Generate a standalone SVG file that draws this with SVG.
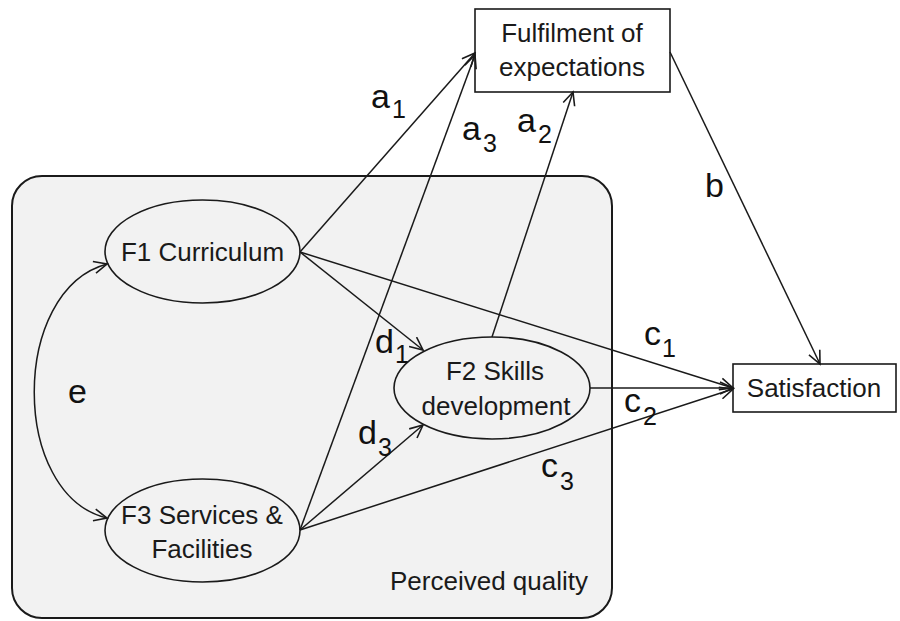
<svg xmlns="http://www.w3.org/2000/svg" width="900" height="621" viewBox="0 0 900 621">
  <defs>
    <marker id="arrow" markerUnits="userSpaceOnUse" markerWidth="16" markerHeight="14" refX="14" refY="7" orient="auto-start-reverse" viewBox="0 0 16 14">
      <path d="M1,1 L14,7 L1,13" fill="none" stroke="#1a1a1a" stroke-width="1.6"/>
    </marker>
    <style>
      .lbl { font-family: "Liberation Sans", Arial, sans-serif; font-size: 26px; fill: #1a1a1a; text-anchor: middle; }
      .coef { font-family: "Liberation Sans", Arial, sans-serif; font-size: 34px; fill: #111; }
      .sub { font-size: 25px; }
      .shape { stroke: #1a1a1a; stroke-width: 1.6; }
      .conn { fill: none; stroke: #1a1a1a; stroke-width: 1.5; marker-end: url(#arrow); }
    </style>
  </defs>
  <rect width="900" height="621" fill="#ffffff"/>

  <!-- container: perceived quality -->
  <g id="perceived-quality">
    <rect x="12" y="176" width="600" height="442" rx="30" ry="30" fill="#f2f2f2" stroke="#1a1a1a" stroke-width="2"/>
    <text class="lbl" x="489" y="590">Perceived quality</text>
  </g>

  <g id="f1">
    <ellipse class="shape" cx="202.5" cy="251.5" rx="97.5" ry="51.5" fill="#f2f2f2"/>
    <text class="lbl" x="202.5" y="261">F1 Curriculum</text>
  </g>

  <g id="f3">
    <ellipse class="shape" cx="202.5" cy="530.5" rx="97.5" ry="51.5" fill="#f2f2f2"/>
    <text class="lbl" x="202" y="524">F3 Services &amp;</text>
    <text class="lbl" x="202" y="558">Facilities</text>
  </g>

  <g id="f2">
    <ellipse class="shape" cx="492" cy="388" rx="98" ry="51" fill="#f2f2f2"/>
    <text class="lbl" x="495" y="380">F2 Skills</text>
    <text class="lbl" x="496" y="415">development</text>
  </g>

  <g id="fulfilment">
    <rect class="shape" x="475" y="9" width="195" height="83" fill="#ffffff"/>
    <text class="lbl" x="572" y="42">Fulfilment of</text>
    <text class="lbl" x="572" y="76">expectations</text>
  </g>

  <g id="satisfaction">
    <rect class="shape" x="733" y="364" width="163" height="48" fill="#ffffff"/>
    <text class="lbl" x="814" y="397">Satisfaction</text>
  </g>

  <!-- paths between constructs -->
  <g id="connectors">
    <line class="conn" x1="300" y1="252" x2="475" y2="53"/>
    <line class="conn" x1="300" y1="530" x2="475" y2="55"/>
    <line class="conn" x1="492" y1="337" x2="573" y2="92"/>
    <line class="conn" x1="670" y1="52" x2="820" y2="364"/>
    <line class="conn" x1="300" y1="252" x2="733" y2="388"/>
    <line class="conn" x1="300" y1="252" x2="423" y2="350"/>
    <line class="conn" x1="590" y1="388" x2="733" y2="388"/>
    <line class="conn" x1="300" y1="530" x2="423" y2="425"/>
    <line class="conn" x1="300" y1="530" x2="733" y2="389"/>
    <path class="conn" d="M107,264 C10,290 10,495 107,518" marker-start="url(#arrow)"/>
  </g>

  <!-- path coefficients -->
  <g id="coefficients">
    <text class="coef" x="371" y="108">a<tspan class="sub" dx="2" dy="10">1</tspan></text>
    <text class="coef" x="462" y="140">a<tspan class="sub" dx="2" dy="12">3</tspan></text>
    <text class="coef" x="517" y="132">a<tspan class="sub" dx="2" dy="11">2</tspan></text>
    <text class="coef" x="705" y="197">b</text>
    <text class="coef" x="68" y="403">e</text>
    <text class="coef" x="375" y="353">d<tspan class="sub" dx="1" dy="10">1</tspan></text>
    <text class="coef" x="358" y="444">d<tspan class="sub" dx="1" dy="12">3</tspan></text>
    <text class="coef" x="644" y="345">c<tspan class="sub" dx="1" dy="12">1</tspan></text>
    <text class="coef" x="624" y="412">c<tspan class="sub" dx="2" dy="13">2</tspan></text>
    <text class="coef" x="541" y="477">c<tspan class="sub" dx="2" dy="13">3</tspan></text>
  </g>
</svg>
